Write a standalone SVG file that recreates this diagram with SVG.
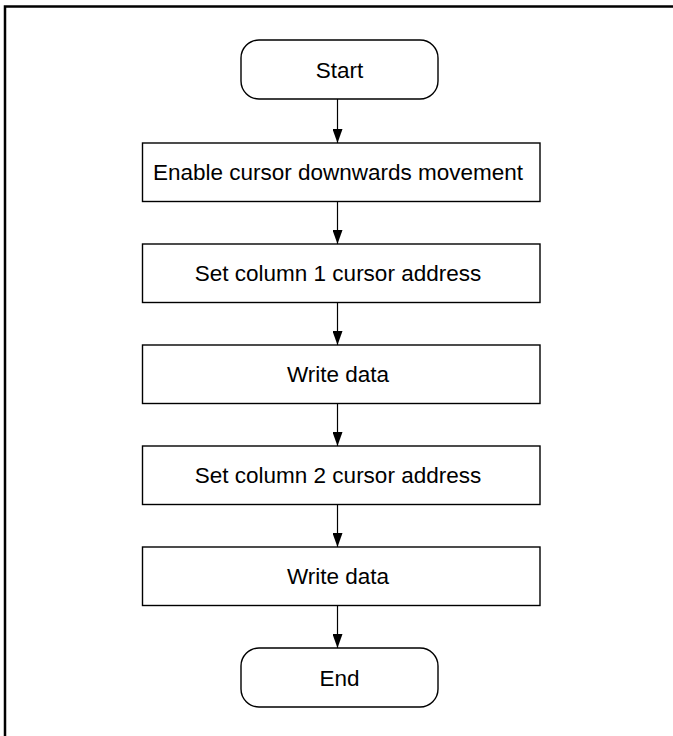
<svg xmlns="http://www.w3.org/2000/svg" width="673" height="736" viewBox="0 0 673 736">
<style>
.box{fill:#fff;stroke:#000;stroke-width:1.4}
.lbl{font-family:"Liberation Sans",Arial,sans-serif;font-size:22.5px;fill:#000;text-anchor:middle}
.conn{stroke:#000;stroke-width:1.2;fill:none}
</style>
<defs>
<marker id="ah" markerUnits="userSpaceOnUse" markerWidth="14" markerHeight="10" refX="14" refY="5" orient="auto" viewBox="0 0 14 10">
<path d="M0,0 L14,5 L0,10 z" fill="#000"/>
</marker>
</defs>
<rect x="0" y="0" width="673" height="736" fill="#fff"/>
<rect x="5" y="6.5" width="720" height="800" fill="none" stroke="#000" stroke-width="2.5"/>
<g id="connectors">
<line class="conn" x1="337.5" y1="99" x2="337.5" y2="143" marker-end="url(#ah)"/>
<line class="conn" x1="337.5" y1="201.5" x2="337.5" y2="244" marker-end="url(#ah)"/>
<line class="conn" x1="337.5" y1="302.5" x2="337.5" y2="345" marker-end="url(#ah)"/>
<line class="conn" x1="337.5" y1="403.5" x2="337.5" y2="446" marker-end="url(#ah)"/>
<line class="conn" x1="337.5" y1="504.5" x2="337.5" y2="547" marker-end="url(#ah)"/>
<line class="conn" x1="337.5" y1="605.5" x2="337.5" y2="648" marker-end="url(#ah)"/>
</g>
<g id="start">
<rect class="box" x="241" y="40" width="197" height="59" rx="18" ry="18"/>
<text class="lbl" x="339.5" y="77.5">Start</text>
</g>
<g id="enable">
<rect class="box" x="142.5" y="143" width="397.5" height="58.5"/>
<text class="lbl" x="338" y="180.3">Enable cursor downwards movement</text>
</g>
<g id="setcol1">
<rect class="box" x="142.5" y="244" width="397.5" height="58.5"/>
<text class="lbl" x="338" y="281.3">Set column 1 cursor address</text>
</g>
<g id="write1">
<rect class="box" x="142.5" y="345" width="397.5" height="58.5"/>
<text class="lbl" x="338" y="382.3">Write data</text>
</g>
<g id="setcol2">
<rect class="box" x="142.5" y="446" width="397.5" height="58.5"/>
<text class="lbl" x="338" y="483.3">Set column 2 cursor address</text>
</g>
<g id="write2">
<rect class="box" x="142.5" y="547" width="397.5" height="58.5"/>
<text class="lbl" x="338" y="584.3">Write data</text>
</g>
<g id="end">
<rect class="box" x="241" y="648" width="197" height="59" rx="18" ry="18"/>
<text class="lbl" x="339.5" y="685.5">End</text>
</g>
</svg>
